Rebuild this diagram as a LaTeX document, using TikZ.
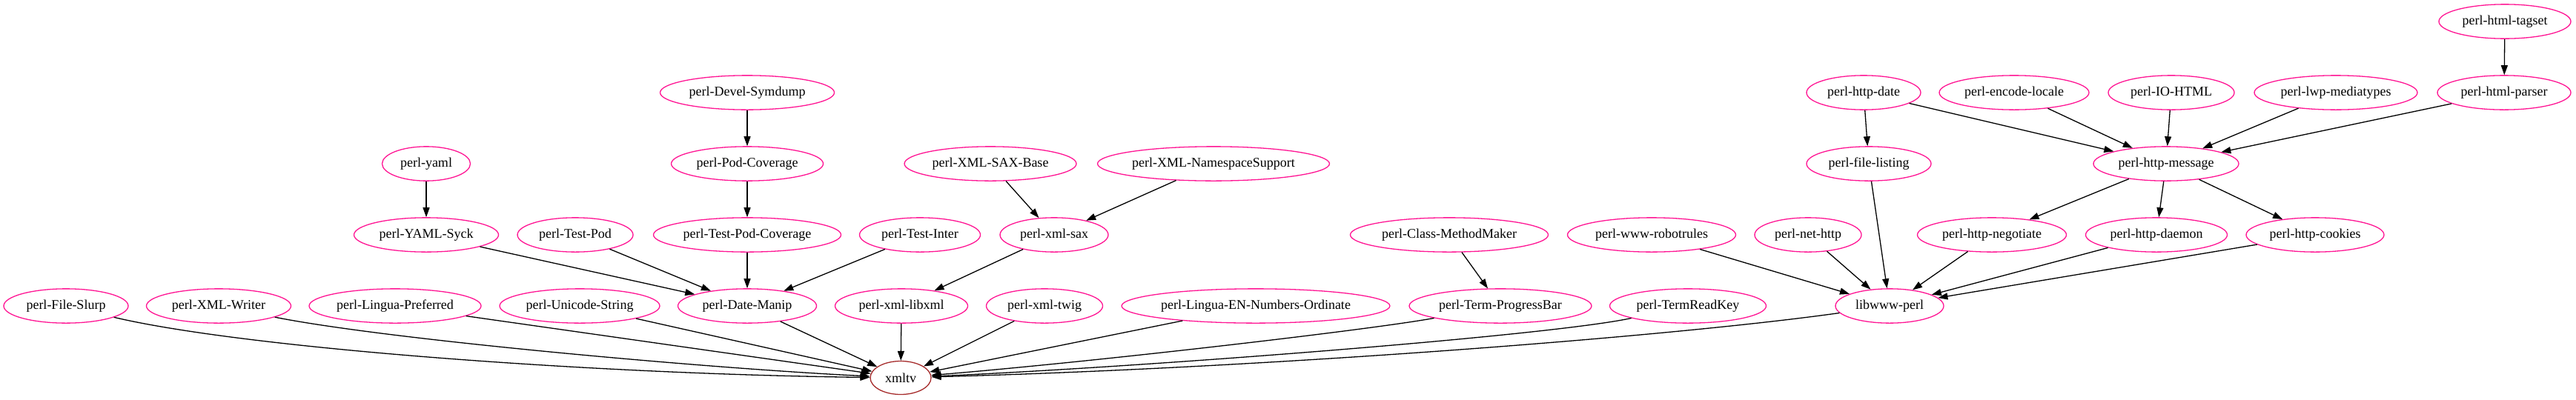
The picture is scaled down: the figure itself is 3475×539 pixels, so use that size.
\documentclass[tikz,border=0pt]{standalone}
\usepackage{fontspec}
\setmainfont{Liberation Serif}
\usetikzlibrary{shapes.geometric,arrows.meta}
\definecolor{pinkc}{RGB}{255,20,147}
\definecolor{brownc}{RGB}{165,42,42}
\tikzset{
  nd/.style={ellipse, draw=pinkc, line width=1.3pt, minimum height=46.3pt, inner sep=0pt, font=\fontsize{18}{20}\selectfont},
  ed/.style={draw=black, line width=1.3pt, -{Triangle[length=13pt,width=9pt]}}
}
\begin{document}
\begin{tikzpicture}[x=1pt,y=-1pt]
\useasboundingbox (0,0) rectangle (3475,539);
% rank 0
\node[nd, minimum width=178pt] (tagset) at (3379,29) {perl-html-tagset};
% rank 1
\node[nd, minimum width=235pt] (symdump) at (1008,125) {perl-Devel-Symdump};
\node[nd, minimum width=154pt] (httpdate) at (2514,125) {perl-http-date};
\node[nd, minimum width=202pt] (encloc) at (2717,125) {perl-encode-locale};
\node[nd, minimum width=170pt] (iohtml) at (2929,125) {perl-IO-HTML};
\node[nd, minimum width=220pt] (lwpmt) at (3151,125) {perl-lwp-mediatypes};
\node[nd, minimum width=180pt] (htmlparser) at (3378,125) {perl-html-parser};
% rank 2
\node[nd, minimum width=119pt] (yaml) at (575,221) {perl-yaml};
\node[nd, minimum width=205pt] (podcov) at (1008,221) {perl-Pod-Coverage};
\node[nd, minimum width=232pt] (saxbase) at (1336,221) {perl-XML-SAX-Base};
\node[nd, minimum width=313pt] (nssupport) at (1637,221) {perl-XML-NamespaceSupport};
\node[nd, minimum width=168pt] (filelisting) at (2521,221) {perl-file-listing};
\node[nd, minimum width=196pt] (httpmsg) at (2922,221) {perl-http-message};
% rank 3
\node[nd, minimum width=195pt] (yamlsyck) at (575,317) {perl-YAML-Syck};
\node[nd, minimum width=156pt] (testpod) at (776,317) {perl-Test-Pod};
\node[nd, minimum width=253pt] (testpodcov) at (1008,317) {perl-Test-Pod-Coverage};
\node[nd, minimum width=163pt] (testinter) at (1241,317) {perl-Test-Inter};
\node[nd, minimum width=146pt] (xmlsax) at (1422,317) {perl-xml-sax};
\node[nd, minimum width=267pt] (classmm) at (1955,317) {perl-Class-MethodMaker};
\node[nd, minimum width=227pt] (robotrules) at (2228,317) {perl-www-robotrules};
\node[nd, minimum width=144pt] (nethttp) at (2439,317) {perl-net-http};
\node[nd, minimum width=201pt] (negotiate) at (2687,317) {perl-http-negotiate};
\node[nd, minimum width=191pt] (daemon) at (2909,317) {perl-http-daemon};
\node[nd, minimum width=186pt] (cookies) at (3123,317) {perl-http-cookies};
% rank 4
\node[nd, minimum width=168pt] (fileslurp) at (89,413) {perl-File-Slurp};
\node[nd, minimum width=195pt] (xmlwriter) at (295,413) {perl-XML-Writer};
\node[nd, minimum width=232pt] (linguapref) at (533,413) {perl-Lingua-Preferred};
\node[nd, minimum width=216pt] (unicode) at (782,413) {perl-Unicode-String};
\node[nd, minimum width=187pt] (datemanip) at (1008,413) {perl-Date-Manip};
\node[nd, minimum width=179pt] (libxml) at (1216,413) {perl-xml-libxml};
\node[nd, minimum width=157pt] (twig) at (1409,413) {perl-xml-twig};
\node[nd, minimum width=360pt] (ordinate) at (1694,413) {perl-Lingua-EN-Numbers-Ordinate};
\node[nd, minimum width=246pt] (progress) at (2024,413) {perl-Term-ProgressBar};
\node[nd, minimum width=211pt] (readkey) at (2277,413) {perl-TermReadKey};
\node[nd, minimum width=146pt] (libwww) at (2549,413) {libwww-perl};
% rank 5
\node[nd, draw=brownc, minimum width=82pt, minimum height=45pt] (xmltv) at (1215,510) {xmltv};

% edges
\draw[ed] (tagset) -- (htmlparser);
\draw[ed] (symdump) -- (podcov);
\draw[ed] (podcov) -- (testpodcov);
\draw[ed] (yaml) -- (yamlsyck);
\draw[ed] (yamlsyck) -- (datemanip);
\draw[ed] (testpod) -- (datemanip);
\draw[ed] (testpodcov) -- (datemanip);
\draw[ed] (testinter) -- (datemanip);
\draw[ed] (saxbase) -- (xmlsax);
\draw[ed] (nssupport) -- (xmlsax);
\draw[ed] (xmlsax) -- (libxml);
\draw[ed] (classmm) -- (progress);
\draw[ed] (httpdate) -- (filelisting);
\draw[ed] (httpdate) -- (httpmsg);
\draw[ed] (encloc) -- (httpmsg);
\draw[ed] (iohtml) -- (httpmsg);
\draw[ed] (lwpmt) -- (httpmsg);
\draw[ed] (htmlparser) -- (httpmsg);
\draw[ed] (httpmsg) -- (negotiate);
\draw[ed] (httpmsg) -- (daemon);
\draw[ed] (httpmsg) -- (cookies);
\draw[ed] (robotrules) -- (libwww);
\draw[ed] (nethttp) -- (libwww);
\draw[ed] (filelisting) -- (libwww);
\draw[ed] (negotiate) -- (libwww);
\draw[ed] (daemon) -- (libwww);
\draw[ed] (cookies) -- (libwww);
% into xmltv
\draw[ed] (fileslurp) .. controls (330,470) and (800,505) .. (xmltv);
\draw[ed] (xmlwriter) .. controls (520,458) and (950,497) .. (xmltv);
\draw[ed] (linguapref) -- (xmltv);
\draw[ed] (unicode) -- (xmltv);
\draw[ed] (datemanip) -- (xmltv);
\draw[ed] (libxml) -- (xmltv);
\draw[ed] (twig) -- (xmltv);
\draw[ed] (ordinate) -- (xmltv);
\draw[ed] (progress) .. controls (1850,445) and (1480,488) .. (xmltv);
\draw[ed] (readkey) .. controls (2092,453) and (1550,495) .. (xmltv);
\draw[ed] (libwww) .. controls (2250,455) and (1700,497) .. (xmltv);
\end{tikzpicture}
\end{document}
